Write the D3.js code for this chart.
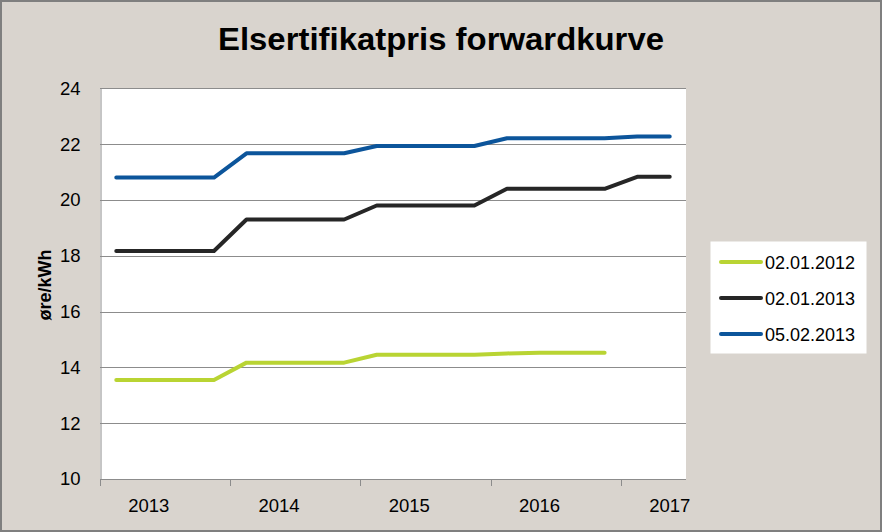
<!DOCTYPE html>
<html><head><meta charset="utf-8">
<script src="https://cdn.jsdelivr.net/npm/d3@7"></script>
<style>
html,body{margin:0;padding:0;background:#fff;}
svg{display:block;}
text{font-family:"Liberation Sans",Arial,sans-serif;}
</style></head><body>
<svg id="chart" width="882" height="532"></svg>
<script>
// Data (quarterly forward prices, øre/kWh)
const quarters = ["2013Q1","2013Q2","2013Q3","2013Q4","2014Q1","2014Q2","2014Q3","2014Q4",
                  "2015Q1","2015Q2","2015Q3","2015Q4","2016Q1","2016Q2","2016Q3","2016Q4",
                  "2017Q1","2017Q2"];
const yearLabels = ["2013","2014","2015","2016","2017"];
const seriesNames = ["02.01.2012","02.01.2013","05.02.2013"];
const seriesColors = ["#b9d433","#262626","#0c559b"];
const s2012 = [13.55,13.55,13.55,13.55,14.17,14.17,14.17,14.17,14.45,14.45,14.45,14.45,14.5,14.52,14.52,14.52,null,null];
const s2013a = [18.17,18.17,18.17,18.17,19.3,19.3,19.3,19.3,19.8,19.8,19.8,19.8,20.4,20.4,20.4,20.4,20.83,20.83];
const s2013b = [20.8,20.8,20.8,20.8,21.67,21.67,21.67,21.67,21.93,21.93,21.93,21.93,22.21,22.21,22.21,22.21,22.27,22.27];
const yTicks = [10,12,14,16,18,20,22,24];

const svg = d3.select("#chart");
const W = 882, H = 532;
const plot = {left:100, right:686, top:88.3, bottom:479};

svg.append("rect").attr("x",1).attr("y",1).attr("width",W-2).attr("height",H-2)
  .attr("fill","#d9d4ce").attr("stroke","#7f7f7f").attr("stroke-width",2);

const x = d3.scaleBand().domain(quarters).range([plot.left, plot.right]).paddingInner(0).paddingOuter(0);
const y = d3.scaleLinear().domain([10,24]).range([plot.bottom, plot.top]);

// plot background
svg.append("rect").attr("x",plot.left).attr("y",plot.top)
  .attr("width",plot.right-plot.left).attr("height",plot.bottom-plot.top).attr("fill","#ffffff");

// gridlines
svg.append("g").selectAll("line").data(yTicks.filter(d=>d>10)).join("line")
  .attr("x1",plot.left).attr("x2",plot.right)
  .attr("y1",d=>Math.round(y(d))+0.5).attr("y2",d=>Math.round(y(d))+0.5)
  .attr("stroke","#8c8c8c").attr("stroke-width",1);

// y axis
const yAxis = d3.axisLeft(y).tickValues(yTicks).tickSize(0).tickPadding(20).tickFormat(d3.format("d"));
const gy = svg.append("g").attr("transform",`translate(${plot.left+0.5},0)`).call(yAxis);
gy.select(".domain").attr("stroke","#8c8c8c");
gy.selectAll("text").style("font-size","18.5px").attr("fill","#000");

// x axis baseline and ticks
const bw = x.bandwidth();
svg.append("line").attr("x1",plot.left).attr("x2",plot.right)
  .attr("y1",Math.round(plot.bottom)+0.5).attr("y2",Math.round(plot.bottom)+0.5)
  .attr("stroke","#8c8c8c");
const tickQuarters = quarters.filter((q,i)=>i%4===0);
svg.append("g").selectAll("line").data(tickQuarters).join("line")
  .attr("x1",d=>Math.round(x(d))+0.5).attr("x2",d=>Math.round(x(d))+0.5)
  .attr("y1",plot.bottom).attr("y2",plot.bottom+7).attr("stroke","#8c8c8c");

// x labels: centred on the second quarter of each year
svg.append("g").selectAll("text").data(yearLabels).join("text")
  .attr("x",(d,i)=>x(quarters[i*4+1])+bw/2).attr("y",512)
  .attr("text-anchor","middle").style("font-size","18.5px").attr("fill","#000").text(d=>d);

// lines
const line = d3.line().defined(d=>d!=null)
  .x((d,i)=>x(quarters[i])+bw/2).y(d=>y(d));
const allSeries = [s2012, s2013a, s2013b];
svg.append("g").selectAll("path").data(allSeries).join("path")
  .attr("d",d=>line(d)).attr("fill","none")
  .attr("stroke",(d,i)=>seriesColors[i]).attr("stroke-width",4)
  .attr("stroke-linecap","round").attr("stroke-linejoin","round");

// title
svg.append("text").attr("x",441).attr("y",50).attr("text-anchor","middle")
  .style("font-size","31px").attr("font-weight","bold").attr("fill","#000")
  .attr("textLength",446).attr("lengthAdjust","spacingAndGlyphs")
  .text("Elsertifikatpris forwardkurve");

// y axis title
svg.append("text").attr("transform","translate(51,285) rotate(-90)").attr("text-anchor","middle")
  .style("font-size","18px").attr("font-weight","bold").attr("fill","#000").text("øre/kWh");

// legend
const lg = svg.append("g");
lg.append("rect").attr("x",710.5).attr("y",241.5).attr("width",156).attr("height",112).attr("fill","#fff");
seriesNames.forEach((n,i)=>{
  const yy = 262 + i*36;
  lg.append("line").attr("x1",721).attr("x2",761).attr("y1",yy).attr("y2",yy)
    .attr("stroke",seriesColors[i]).attr("stroke-width",4).attr("stroke-linecap","round");
  lg.append("text").attr("x",765).attr("y",yy+6.5).style("font-size","18px").attr("fill","#000").text(n);
});
</script>
</body></html>
